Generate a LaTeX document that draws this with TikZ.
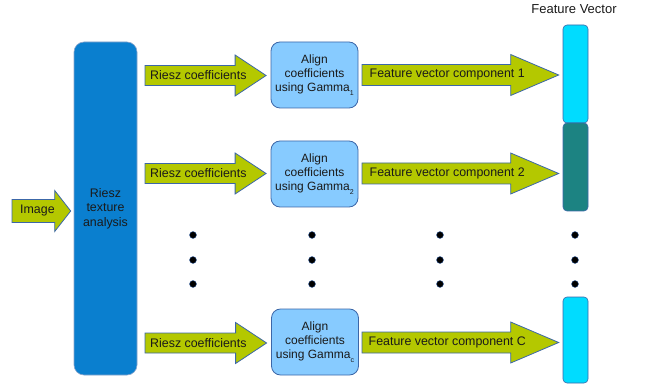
\documentclass[tikz,border=0pt]{standalone}
\usepackage{fontspec}
\setmainfont{Liberation Sans}
\usetikzlibrary{calc}
\definecolor{rieszblue}{HTML}{0A7FCF}
\definecolor{arrowgreen}{HTML}{B4C800}
\definecolor{edgeblue}{HTML}{3C67A8}
\definecolor{alignblue}{HTML}{87CBFF}
\definecolor{barcyan}{HTML}{00DCFF}
\definecolor{barteal}{HTML}{1C8382}
\definecolor{txt}{HTML}{1A1A1A}
\newcommand{\blockarr}[5]{%
\draw[blockarrow] let \p1=(#1), \p2=(#2) in
 (\x1,\y1+#4pt) -- (\x2-#3pt,\y1+#4pt) -- (\x2-#3pt,\y1+#5pt) -- (\x2,\y1)
 -- (\x2-#3pt,\y1-#5pt) -- (\x2-#3pt,\y1-#4pt) -- (\x1,\y1-#4pt) -- cycle;}
\newcommand{\gsub}[1]{\raisebox{-3.5pt}{\fontsize{7}{7}\selectfont #1}}
\begin{document}
\begin{tikzpicture}[x=1pt,y=-1pt,
  blockarrow/.style={fill=arrowgreen,draw=edgeblue,line width=0.8pt,line join=miter},
  lbl/.style={font=\fontsize{12.4}{14}\selectfont,text=txt,inner sep=0pt,anchor=west},
  alignbox/.style={draw=edgeblue,fill=alignblue,rounded corners=9pt,line width=0.8pt,
    minimum width=87pt,minimum height=66pt,align=center,text=txt,
    font=\fontsize{12}{14}\selectfont,inner sep=0pt},
  bar/.style={draw=edgeblue,rounded corners=4pt,line width=0.6pt,minimum width=25pt,inner sep=0pt},
  dotn/.style={circle,fill=black,draw=edgeblue,line width=0.4pt,minimum size=7pt,inner sep=0pt}]
\useasboundingbox (0,0) rectangle (645,390);
% Riesz texture analysis
\node[draw=edgeblue!60,fill=rieszblue,rounded corners=10pt,line width=0.6pt,
  minimum width=63pt,minimum height=333pt,inner sep=0pt,align=center,text=txt,
  font=\fontsize{12.4}{14.5}\selectfont] (riesz) at (105.5,208.5) {Riesz\\texture\\analysis};
% Image input arrow
\coordinate (imgs) at (12,211);
\coordinate (imgt) at ($(riesz.west)+(-3,2.5)$);
\blockarr{imgs}{imgt}{16}{11.5}{20.5}
\node[lbl] (imgl) at (20,211) {Image};
% Align boxes
\node[alignbox] (al1) at (314.5,75) {Align\\coefficients\\using Gamma\gsub{1}};
\node[alignbox] (al2) at (314.5,174) {Align\\coefficients\\using Gamma\gsub{2}};
\node[alignbox] (alc) at (315,342) {Align\\coefficients\\using Gamma\gsub{c}};
% Feature vector bars
\node[bar,fill=barcyan,minimum height=98pt] (fv1) at (575.5,74) {};
\node[bar,fill=barteal,minimum height=88pt] (fv2) at (575.5,167) {};
\node[bar,fill=barcyan,minimum height=86pt] (fvc) at (575.5,340) {};
\node[font=\fontsize{13}{15}\selectfont,text=txt,inner sep=0pt] (fvl) at (574,9) {Feature Vector};
% Riesz coefficient arrows
\coordinate (r1s) at (145,75.5);
\coordinate (r2s) at (145,173.5);
\coordinate (rcs) at (145,343);
\blockarr{r1s}{$(al1.west)+(-4.5,0)$}{31}{10}{20.5}
\blockarr{r2s}{$(al2.west)+(-4.5,0)$}{31}{10}{20.5}
\blockarr{rcs}{$(alc.west)+(-4.5,0)$}{31}{10}{20.5}
\node[lbl] (rl1) at (150,75.5) {Riesz coefficients};
\node[lbl] (rl2) at (150,173.5) {Riesz coefficients};
\node[lbl] (rlc) at (150,343) {Riesz coefficients};
% Feature vector component arrows
\coordinate (f1s) at (362,75);
\coordinate (f2s) at (362,173.5);
\coordinate (fcs) at (362,342.5);
\blockarr{f1s}{$(fv1.west)+(-4,0)$}{48}{10.5}{20.5}
\blockarr{f2s}{$(fv2.west)+(-4,0)$}{48}{10.5}{20.5}
\blockarr{fcs}{$(fvc.west)+(-4,0)$}{48}{10.5}{20.5}
\node[lbl] (fl1) at (369.5,75) {Feature vector component 1};
\node[lbl] (fl2) at (369.5,173.5) {Feature vector component 2};
\node[lbl] (flc) at (368.5,342.5) {Feature vector component C};
% dots
\foreach \cx/\nm in {193/a,312/b,440/c,575/d}{
  \foreach \cy/\rw in {235/1,260/2,284/3}{
    \node[dotn] (dot\nm\rw) at (\cx,\cy) {};
  }
}
\end{tikzpicture}
\end{document}
